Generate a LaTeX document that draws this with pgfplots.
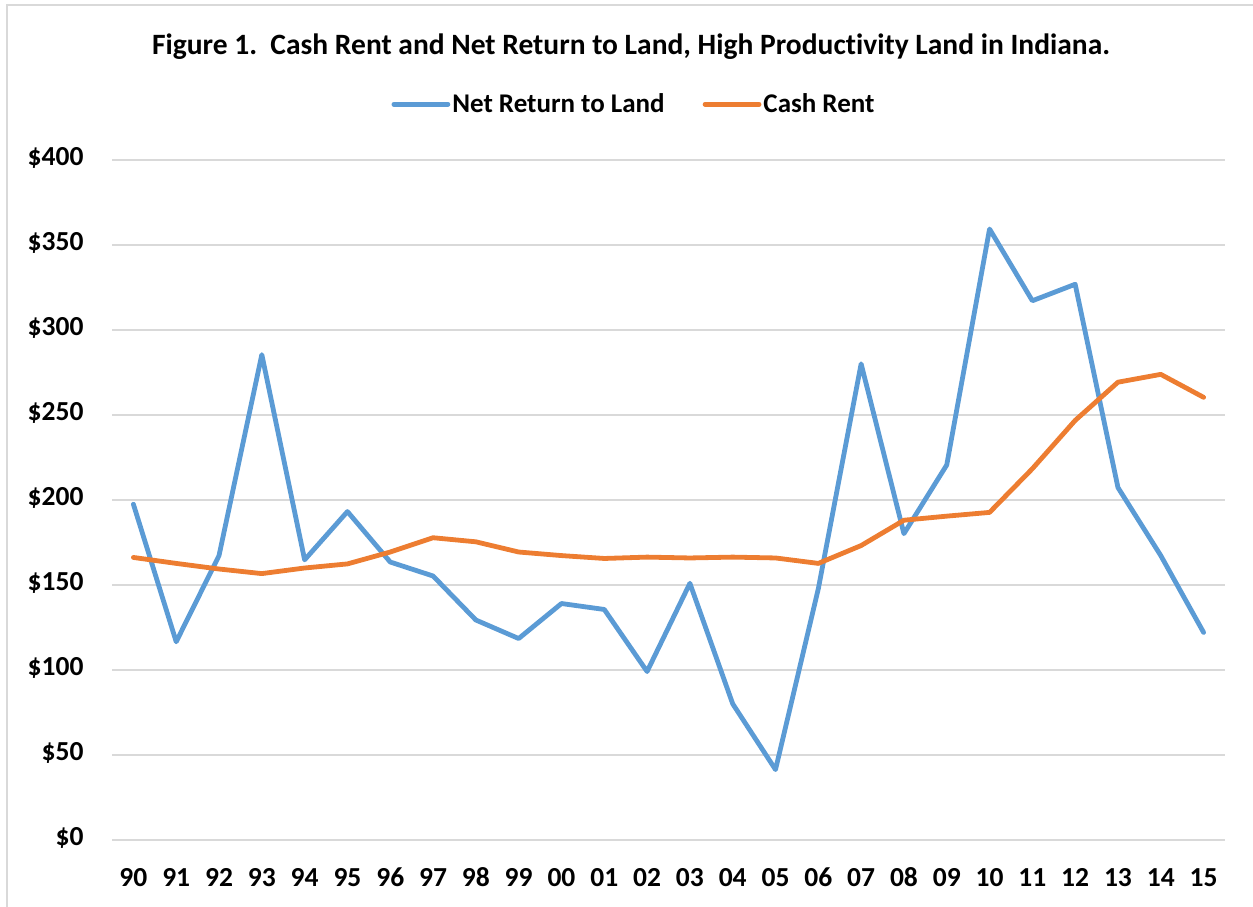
\documentclass[border=0pt]{standalone}
\usepackage{fontspec}
\setmainfont[Ligatures=NoCommon]{Carlito}
\usepackage{pgfplots}
\pgfplotsset{compat=1.18}
\definecolor{cblue}{HTML}{5B9BD5}
\definecolor{corange}{HTML}{ED7D31}
\definecolor{cgrid}{HTML}{D9D9D9}
\begin{document}
\begin{tikzpicture}
\path[use as bounding box] (0pt,0pt) rectangle (1253pt,907pt);
\draw[cgrid, line width=1.5pt] (7pt,-10pt) -- (7pt,902pt) -- (1270pt,902pt);
\begin{axis}[
  at={(112pt,67pt)}, anchor=south west,
  scale only axis, width=1113pt, height=680pt,
  xmin=-0.5, xmax=25.5, ymin=0, ymax=400,
  axis line style={draw=none},
  xtick={0,...,25},
  xticklabels={90,91,92,93,94,95,96,97,98,99,00,01,02,03,04,05,06,07,08,09,10,11,12,13,14,15},
  ytick={0,50,...,400},
  yticklabels={\$0,\$50,\$100,\$150,\$200,\$250,\$300,\$350,\$400},
  major tick length=0pt,
  ymajorgrids, grid style={cgrid, line width=1.2pt},
  tick label style={font=\fontsize{27.5}{30}\selectfont\bfseries},
  typeset ticklabels with strut,
  xticklabel style={yshift=-22pt},
  yticklabel style={xshift=-25pt},
  legend columns=2,
  legend style={at={(0.469,1.082)}, anchor=center, draw=none, fill=none,
    font=\fontsize{27}{30}\selectfont\bfseries,
    /tikz/every even column/.append style={column sep=36pt}},
  legend image code/.code={\draw[#1, line width=4.8pt] (0pt,0pt) -- (54pt,0pt);},
  clip=false,
]
\addplot[cblue, line width=4.8pt, line join=round, line cap=round] coordinates {
(0,197.5) (1,116.6) (2,167.3) (3,285.5) (4,164.8) (5,193.2) (6,163.5) (7,155.3)
(8,129.4) (9,118.5) (10,139.1) (11,135.6) (12,99.1) (13,151) (14,80.1) (15,41.4)
(16,147.8) (17,280.1) (18,180.2) (19,220.6) (20,359.4) (21,317.2) (22,326.9)
(23,207.3) (24,167.3) (25,122.1)};
\addlegendentry{Net Return to Land}
\addplot[corange, line width=4.8pt, line join=round, line cap=round] coordinates {
(0,166.2) (1,162.7) (2,159.4) (3,156.7) (4,160) (5,162.4) (6,169.4) (7,177.8)
(8,175.4) (9,169.4) (10,167.3) (11,165.6) (12,166.4) (13,165.9) (14,166.4) (15,165.9)
(16,162.7) (17,173.2) (18,188.1) (19,190.5) (20,192.7) (21,218.4) (22,246.8)
(23,269.3) (24,273.9) (25,260.4)};
\addlegendentry{Cash Rent}
\end{axis}
\node[font=\fontsize{29.5}{32}\selectfont\bfseries] at (631pt,860pt) {Figure 1.\ \ Cash Rent and Net Return to Land, High Productivity Land in Indiana.};
\end{tikzpicture}
\end{document}
